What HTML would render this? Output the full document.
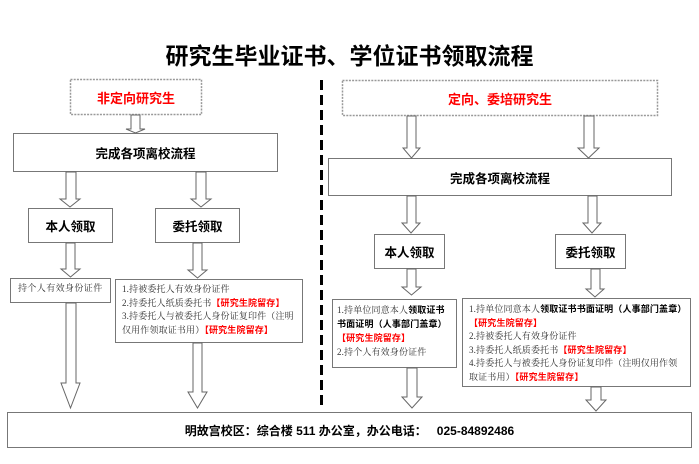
<!DOCTYPE html>
<html><head><meta charset="utf-8">
<style>
html,body{margin:0;padding:0;background:#fff;}
body{width:699px;height:464px;position:relative;overflow:hidden;font-family:"Liberation Sans","Noto Sans CJK SC",sans-serif;}
svg{position:absolute;left:0;top:0;}
.t{position:absolute;white-space:nowrap;}
.c{position:absolute;display:flex;align-items:center;justify-content:center;white-space:nowrap;font-weight:bold;color:#000;}
.s{position:absolute;white-space:nowrap;font-family:"Liberation Serif","Noto Serif CJK SC",serif;font-size:9px;line-height:13.5px;color:#333;letter-spacing:0.15px;}
.s b{font-family:"Liberation Sans","Noto Sans CJK SC",sans-serif;color:#000;font-weight:bold;}
.r{font-family:"Liberation Sans","Noto Sans CJK SC",sans-serif;color:#f00;font-weight:bold;}
</style></head><body>
<svg width="699" height="464" viewBox="0 0 699 464">
<g fill="#fff" stroke="#999" stroke-width="1.5" stroke-dasharray="2,1.2">
<rect x="70.5" y="79.5" width="131" height="35"/>
<rect x="342.5" y="80.5" width="315" height="35"/>
</g>
<line x1="321.5" y1="80" x2="321.5" y2="408" stroke="#000" stroke-width="3" stroke-dasharray="10,5"/>
<g fill="#fff" stroke="#777" stroke-width="1">
<rect x="13.5" y="133.5" width="264" height="38"/>
<rect x="328.5" y="158.5" width="343" height="37"/>
<rect x="28.5" y="208.5" width="84" height="34"/>
<rect x="155.5" y="208.5" width="84" height="34"/>
<rect x="374.5" y="234.5" width="70" height="34"/>
<rect x="555.5" y="234.5" width="70" height="34"/>
<rect x="10.5" y="278.5" width="100" height="24"/>
<rect x="115.5" y="279.5" width="187" height="63"/>
<rect x="332.5" y="299.5" width="124" height="68"/>
<rect x="462.5" y="298.5" width="228" height="88"/>
<rect x="7.5" y="412.5" width="684" height="35"/>
</g>
<g fill="#fff" stroke="#666" stroke-width="1">
<polygon points="131,115 140,115 140,129 145,129 135.5,133 126,129 131,129"/>
<polygon points="66,172 76,172 76,199 80,199 70,207 60,199 66,199"/>
<polygon points="196,172 206,172 206,199 211,199 201,207 191,199 196,199"/>
<polygon points="66,243 75,243 75,269 80,269 70.5,277 61,269 66,269"/>
<polygon points="193,243 202,243 202,270 207,270 197.5,278 188,270 193,270"/>
<polygon points="66,303 76,303 76,383 80,383 70.5,408 61,383 66,383"/>
<polygon points="193,343 202,343 202,392 207,392 197.5,408 188,392 193,392"/>
<polygon points="407,116 416,116 416,148 420,148 411.5,158 403,148 407,148"/>
<polygon points="584,116 594,116 594,148 599,148 588.5,158 578,148 584,148"/>
<polygon points="407,196 416,196 416,223 420,223 411,233 402,223 407,223"/>
<polygon points="588,196 597,196 597,223 601,223 592,233 583,223 588,223"/>
<polygon points="407,269 416,269 416,287 421,287 411.5,295 402,287 407,287"/>
<polygon points="591,269 600,269 600,289 604,289 595,297 586,289 591,289"/>
<polygon points="407,368 417,368 417,397 422,397 412,408 402,397 407,397"/>
<polygon points="591,387 601,387 601,400 606,400 596,411 586,400 591,400"/>
</g>
</svg>

<div class="c" style="left:0;top:40px;width:699px;height:28px;font-size:23px;">研究生毕业证书、学位证书领取流程</div>

<div class="c" style="left:70px;top:80px;width:132px;height:35px;font-size:13px;color:#f00;">非定向研究生</div>
<div class="c" style="left:342px;top:81px;width:316px;height:35px;font-size:13px;color:#f00;">定向、委培研究生</div>

<div class="c" style="left:13px;top:133px;width:265px;height:39px;font-size:12.5px;">完成各项离校流程</div>
<div class="c" style="left:328px;top:158px;width:344px;height:38px;font-size:12.5px;">完成各项离校流程</div>

<div class="c" style="left:28px;top:208px;width:85px;height:35px;font-size:12.5px;">本人领取</div>
<div class="c" style="left:155px;top:208px;width:85px;height:35px;font-size:12.5px;">委托领取</div>
<div class="c" style="left:374px;top:234px;width:71px;height:35px;font-size:12.5px;">本人领取</div>
<div class="c" style="left:555px;top:234px;width:71px;height:35px;font-size:12.5px;">委托领取</div>

<div class="s" style="left:18px;top:282px;letter-spacing:0.4px;">持个人有效身份证件</div>

<div class="s" style="left:122px;top:283px;">1.持被委托人有效身份证件<br>2.持委托人纸质委托书<span class="r">【研究生院留存】</span><br>3.持委托人与被委托人身份证复印件（注明<br>仅用作领取证书用）<span class="r">【研究生院留存】</span></div>

<div class="s" style="left:337px;top:303px;line-height:14px;">1.持单位同意本人<b>领取证书</b><br><b>书面证明（人事部门盖章）</b><br><span class="r">【研究生院留存】</span><br>2.持个人有效身份证件</div>

<div class="s" style="left:469px;top:303px;">1.持单位同意本人<b>领取证书书面证明（人事部门盖章）</b><br><span class="r">【研究生院留存】</span><br>2.持被委托人有效身份证件<br>3.持委托人纸质委托书<span class="r">【研究生院留存】</span><br>4.持委托人与被委托人身份证复印件（注明仅用作领<br>取证书用）<span class="r">【研究生院留存】</span></div>

<div class="c" style="left:7px;top:412px;width:685px;height:36px;font-size:12px;">明故宫校区：综合楼 511 办公室，办公电话：&nbsp;&nbsp;&nbsp;025-84892486</div>
</body></html>
